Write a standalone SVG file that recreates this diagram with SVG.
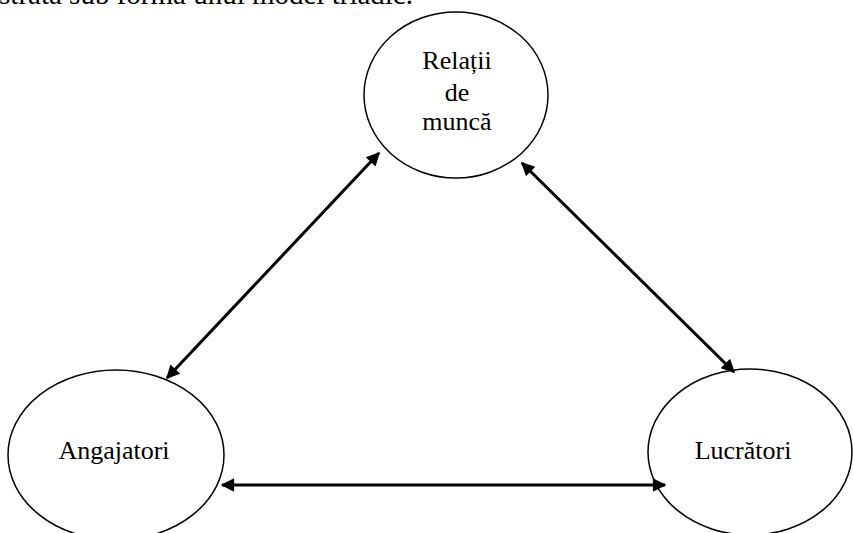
<svg xmlns="http://www.w3.org/2000/svg" width="853" height="533" viewBox="0 0 853 533">
<style>
.node ellipse{fill:#fff;stroke:#000;stroke-width:1.5}
text{font-family:"Liberation Serif","Times New Roman",serif;font-size:26px;fill:#000}
.conn line{stroke:#000;stroke-width:3;marker-start:url(#ah);marker-end:url(#ah)}
</style>
<defs>
<marker id="ah" viewBox="0 0 10 10" refX="9" refY="5" markerWidth="5.5" markerHeight="4.5" orient="auto-start-reverse" markerUnits="strokeWidth">
<path d="M0,0L10,5L0,10z" fill="#000"/>
</marker>
</defs>
<rect width="853" height="533" fill="#fff"/>
<text x="413" y="4" text-anchor="end" style="font-size:29px">ilustrată sub forma unui model triadic.</text>
<g id="relatii" class="node">
<ellipse cx="456" cy="95" rx="92" ry="83"/>
<text x="457" y="69" text-anchor="middle">Relații</text>
<text x="457" y="101" text-anchor="middle">de</text>
<text x="457" y="130" text-anchor="middle">muncă</text>
</g>
<g id="angajatori" class="node">
<ellipse cx="116" cy="455" rx="108" ry="85"/>
<text x="114" y="459" text-anchor="middle">Angajatori</text>
</g>
<g id="lucratori" class="node">
<ellipse cx="750" cy="452" rx="102" ry="83"/>
<text x="743" y="459" text-anchor="middle">Lucrători</text>
</g>
<g id="connectors" class="conn">
<line x1="167" y1="378" x2="379" y2="153"/>
<line x1="522" y1="163" x2="734" y2="372"/>
<line x1="222" y1="485" x2="665" y2="485"/>
</g>
</svg>
